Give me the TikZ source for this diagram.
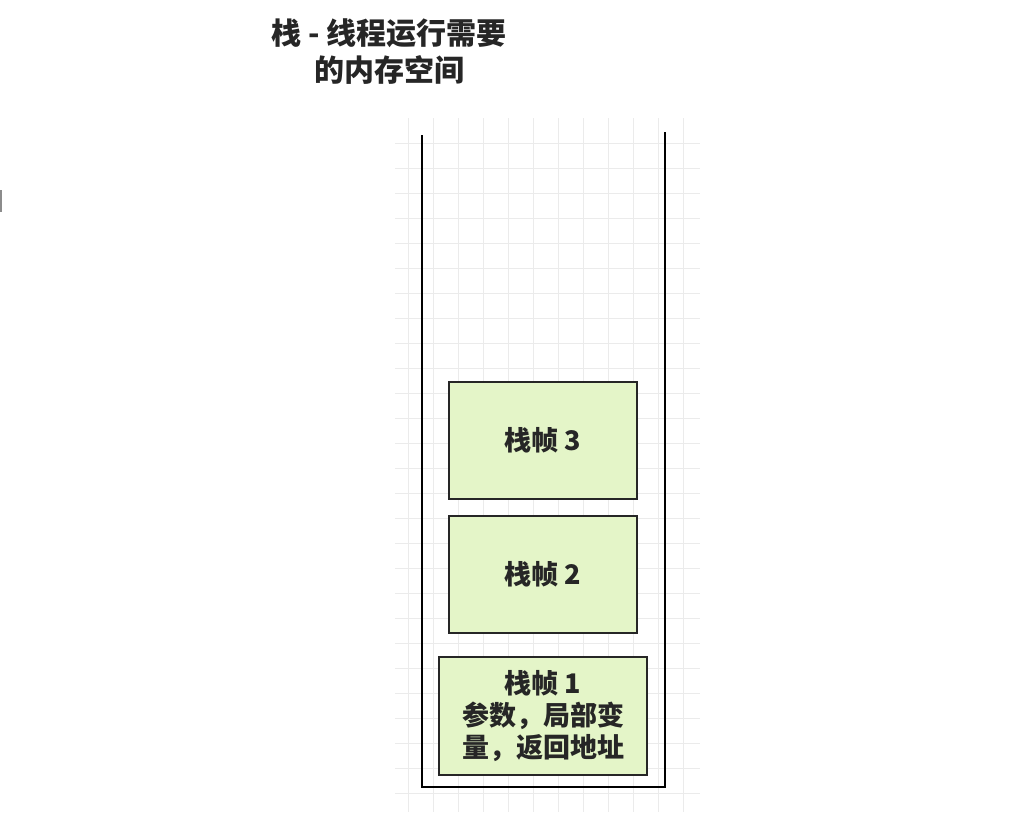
\documentclass[tikz,border=0pt]{standalone}
\usepackage{fontspec}
\newfontfamily\cjk{Noto Sans CJK SC}
\definecolor{framefill}{HTML}{E4F5C8}
\definecolor{gridc}{HTML}{EBEBEB}
\begin{document}
\begin{tikzpicture}[x=1pt,y=-1pt,
  framebox/.style={draw=black!85,line width=1.8pt,fill=framefill,inner sep=0pt,
    font=\cjk\bfseries\fontsize{27}{32}\selectfont,text=black!85,align=center},
  titletext/.style={font=\cjk\bfseries\fontsize{30}{37}\selectfont,text=black!85,align=center},
  wall/.style={draw=black,line width=1.8pt}]
\useasboundingbox (0,0) rectangle (1036,812);
\fill[white] (0,0) rectangle (1036,812);
% faint grid
\foreach \gx in {408,433,...,700} \draw[gridc,line width=0.8pt] (\gx,118) -- (\gx,812);
\foreach \gy in {143,168,...,812} \draw[gridc,line width=0.8pt] (395,\gy) -- (700,\gy);
% small mark at left edge
\draw[black!45,line width=1.2pt] (1,190) -- (1,212);
% title
\node[titletext] (title) at (389,52) {栈 - 线程运行需要\\的内存空间};
% stack container (open top)
\coordinate (tl) at (422,135);
\coordinate (bl) at (422,787);
\coordinate (br) at (665,787);
\coordinate (tr) at (665,132);
\draw[wall] (tl) -- (bl) -- (br) -- (tr);
% frames
\node[framebox,minimum width=188pt,minimum height=117pt] (f3) at (543,440.5) {栈帧 3};
\node[framebox,minimum width=188pt,minimum height=117pt] (f2) at (543,574.5) {栈帧 2};
\node[framebox,minimum width=208pt,minimum height=118pt] (f1) at (543,716) {栈帧 1\\参数，局部变\\量，返回地址};
\end{tikzpicture}
\end{document}
